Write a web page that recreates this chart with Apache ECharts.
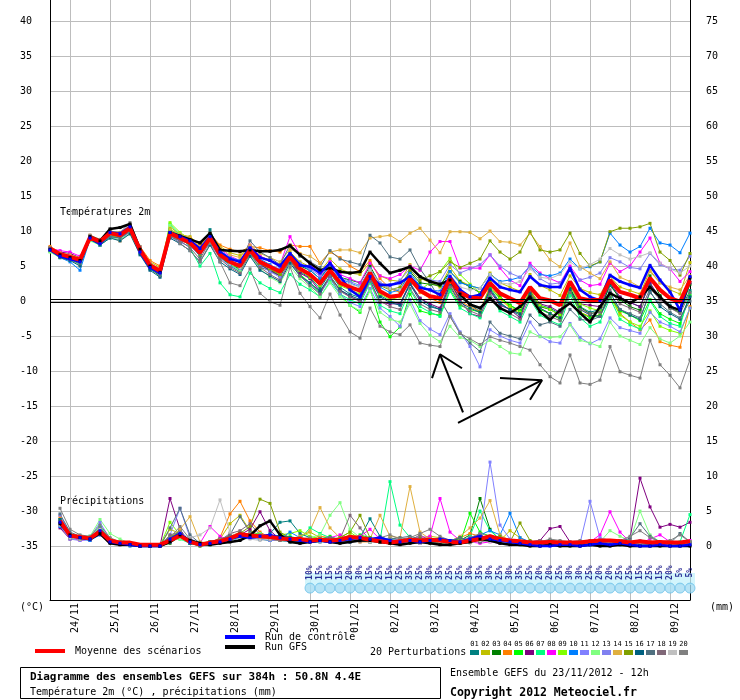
<!DOCTYPE html>
<html>
<head>
<meta charset="utf-8">
<script src="https://cdn.jsdelivr.net/npm/echarts@6/dist/echarts.min.js"></script>
<style>
html,body{margin:0;padding:0;background:#fff}
#main{width:740px;height:700px}
</style>
</head>
<body>
<div id="main"></div>
<script>
// axes
var days = ['24/11','25/11','26/11','27/11','28/11','29/11','30/11','01/12','02/12','03/12','04/12','05/12','06/12','07/12','08/12','09/12'];
var dayTicks = days.map(function(d, k){ return 2 + 4 * k; });
var tempTicks = [-35,-30,-25,-20,-15,-10,-5,0,5,10,15,20,25,30,35,40];
var mmTicks = [0,5,10,15,20,25,30,35,40,45,50,55,60,65,70,75];

// probabilite de neige (%), a partir de l'echeance 26
var snowStart = 26;
var snowPct = [10,15,15,15,20,30,15,25,15,25,35,25,30,35,25,25,30,35,30,25,30,35,25,20,20,25,30,30,25,20,20,25,25,15,25,15,20,5,5];

// temperature 2m, pas de 6h
var meanT = [7.5,6.7,6.3,5.9, 9.1,8.5,9.7,9.4, 10.4,7.3,5.1,4.3, 9.7,9.0,8.3,6.9, 9.0,6.6,5.6,5.0, 7.3,5.6,4.9,4.2, 6.3,4.6,3.8,2.5, 4.4,2.6,2.0,1.5, 4.0,1.4,0.6,0.8, 3.2,1.5,0.7,0.4, 3.2,1.2,0.5,0.4, 2.6,1.1,0.4,-0.3, 2.0,0.4,0.1,-0.6, 2.8,0.4,0.1,0.2, 3.0,1.3,0.9,0.4, 3.3,1.6,0.4,-0.1, 3.0];
var ctrlT = [7.3,6.4,6.0,5.6, 9.0,8.2,9.8,9.6, 10.6,7.0,4.8,4.0, 9.8,9.2,8.6,7.5, 9.2,7.0,6.0,5.6, 7.6,6.2,5.8,5.0, 6.8,5.1,4.9,4.0, 5.4,3.5,1.6,0.6, 3.5,2.3,2.3,2.6, 3.5,1.9,1.6,0.9, 3.5,1.6,0.6,0.9, 3.3,2.0,1.6,1.3, 3.5,2.3,2.0,2.0, 4.7,1.6,0.6,0.1, 3.7,2.8,2.3,1.9, 5.1,3.0,1.3,-1.3, 3.5];
var gfsT = [7.4,6.6,6.2,5.8, 9.2,8.6,10.3,10.5, 11.0,7.4,5.0,4.1, 9.8,9.3,8.8,8.3, 9.7,7.3,7.2,7.1, 7.3,7.1,7.1,7.3, 7.9,6.6,5.4,4.4, 4.7,4.2,4.0,4.2, 7.0,5.4,4.0,4.4, 4.9,3.5,2.8,2.4, 3.0,1.0,-0.5,-1.0, 0.4,-1.0,-1.7,-0.8, 0.6,-1.5,-2.7,-1.3, -0.3,-1.7,-3.0,-0.8, 1.1,0.4,-0.3,0.6, 2.0,0.6,-0.8,-1.3, 3.3];

var t01 = [7.6,6.5,6.0,5.6, 9.3,8.4,9.5,9.6, 10.5,7.1,4.9,4.0, 10.0,9.2,8.0,6.4, 10.2,6.8,5.0,4.2, 7.5,5.4,4.3,3.6, 6.0,4.2,3.3,1.8, 4.0,2.0,1.0,0.5, 3.5,0.8,0.0,-0.4, 2.6,0.4,-0.6,-1.2, 2.4,0.5,-0.5,-1.5, 1.8,-0.2,-1.3,-2.0, 1.5,-0.6,-1.0,-1.8, 1.9,-0.8,-1.6,-1.2, 2.2,0.5,-0.2,-0.8, 2.4,0.6,-0.6,-1.4, 1.5];
var t02 = [7.4,6.8,6.5,6.1, 8.9,8.2,9.3,9.0, 9.8,7.6,5.6,4.8, 10.6,9.5,9.2,8.0, 9.5,7.8,6.9,6.5, 7.8,6.4,5.8,5.1, 7.0,5.6,4.9,4.2, 6.0,4.6,4.0,3.8, 5.5,3.6,3.0,2.8, 5.2,3.3,2.6,2.0, 4.8,2.9,2.2,1.8, 4.0,2.6,2.0,1.4, 3.8,2.2,1.6,0.8, 3.6,1.8,1.2,0.9, 3.5,2.0,1.5,1.0, 4.4,2.6,1.6,1.0, 5.5];
var t03 = [7.2,6.4,6.2,5.8, 9.0,8.6,9.8,9.2, 10.2,7.0,4.6,3.6, 9.4,8.8,8.6,7.2, 9.2,6.2,5.2,4.6, 6.8,4.8,4.4,3.9, 6.4,5.0,4.4,3.2, 5.2,3.4,3.0,2.6, 5.0,2.4,1.8,1.5, 4.2,2.6,2.4,2.2, 4.2,2.8,2.0,1.2, 3.0,0.6,-0.6,-1.4, 1.2,-0.8,-1.2,-2.0, 1.8,-0.9,-1.8,-1.5, 2.5,0.2,-0.8,-1.3, 3.6,0.8,-1.0,-1.6, 2.4];
var t04 = [7.8,7.0,6.4,6.0, 9.4,8.8,9.2,8.6, 10.0,7.8,5.8,5.0, 9.8,9.4,9.0,8.2, 9.6,8.0,7.4,7.0, 7.8,7.6,7.2,7.0, 8.0,7.8,7.8,5.4, 7.0,6.2,5.0,4.2, 5.8,3.2,1.8,1.2, 3.5,1.2,0.4,-0.2, 2.6,0.0,-0.8,-1.5, 2.2,0.3,-1.0,-1.8, 1.2,-1.0,-1.8,-2.4, 1.5,-1.6,-2.2,-2.0, 0.8,-1.8,-3.0,-4.1, -2.7,-5.8,-6.3,-6.6, -0.8];
var t05 = [7.3,6.5,6.1,5.7, 8.9,8.3,9.5,9.3, 10.3,7.2,5.0,4.0, 10.2,9.4,8.4,6.8, 8.8,6.4,5.2,4.4, 7.0,5.2,4.4,3.6, 5.8,3.8,2.6,1.2, 3.4,1.0,-0.6,-1.6, 1.8,-3.0,-5.1,-3.7, 1.0,-1.4,-1.8,-2.0, 1.6,-0.6,-1.2,-1.6, 1.8,0.4,-0.6,-1.4, 1.0,-1.2,-1.8,-2.6, 1.2,-1.6,-2.4,-2.0, 0.6,-1.4,-2.0,-2.8, 0.2,-1.8,-2.6,-3.2, 0.8];
var t06 = [7.6,7.0,6.8,6.2, 9.2,8.4,9.6,9.2, 10.2,7.2,5.0,4.2, 9.6,8.8,8.2,6.8, 8.8,6.4,5.4,4.8, 7.0,5.2,4.4,3.6, 5.8,4.0,3.2,1.4, 3.4,1.6,0.6,0.0, 3.0,-0.2,-0.4,-0.4, 2.4,0.4,-0.4,-1.0, 2.8,0.2,-1.8,-2.2, 1.4,-0.6,-1.2,-2.4, 1.4,-0.4,-0.8,-1.6, 2.4,-0.4,-0.6,-0.8, 2.6,0.6,-0.2,-0.8, 2.6,0.4,-0.8,-1.2, 2.6];
var t07 = [7.2,6.3,5.9,5.5, 8.7,8.0,9.3,9.0, 10.0,7.0,4.8,3.8, 11.0,9.4,7.6,5.0, 6.8,2.6,0.9,0.6, 4.0,2.6,1.8,1.2, 3.8,2.4,1.6,0.6, 2.8,1.0,0.2,-0.4, 2.6,-0.6,-1.4,-1.8, 1.6,-0.8,-1.6,-2.2, 1.4,-1.0,-1.8,-2.4, 0.6,-1.4,-2.2,-3.0, 0.2,-2.0,-2.8,-3.4, 0.8,-2.4,-3.6,-3.0, 0.4,-2.6,-3.4,-4.0, 0.0,-2.2,-3.2,-3.6, 1.2];
var t08 = [7.5,7.2,7.0,6.4, 9.2,8.6,9.6,9.4, 10.6,7.6,5.4,4.6, 9.8,9.2,8.8,7.6, 9.4,7.4,6.4,5.8, 8.0,6.4,5.8,5.2, 9.2,6.6,5.4,3.6, 5.6,3.8,3.2,2.6, 5.4,3.6,3.2,3.8, 5.0,4.4,7.0,8.5, 8.5,4.7,4.7,4.7, 6.6,4.7,3.0,2.2, 5.4,4.0,3.2,2.6, 5.0,3.0,2.2,2.4, 5.4,4.2,5.0,7.0, 9.0,5.4,4.6,2.8, 4.2];
var t09 = [7.1,6.4,6.0,5.4, 8.8,8.2,9.4,9.0, 10.2,7.0,4.8,4.0, 11.2,9.8,8.8,7.2, 9.2,6.8,5.6,4.8, 7.0,5.4,4.6,3.8, 6.0,4.4,3.4,2.2, 4.0,2.2,1.6,1.0, 3.6,1.0,0.2,0.6, 3.2,1.6,2.6,4.2, 6.1,3.8,2.4,1.2, 2.6,0.4,-0.8,-1.6, 1.6,-0.6,-1.2,-2.0, 2.2,-0.4,-1.0,-1.4, 0.6,-2.0,-3.0,-3.6, -1.4,-3.6,-4.2,-4.6, -1.0];
var t10 = [7.2,6.2,5.6,4.4, 8.8,8.0,9.2,9.0, 10.0,6.8,4.6,3.8, 9.8,9.2,8.6,7.4, 9.4,7.2,6.2,5.8, 7.6,6.0,5.2,4.4, 6.6,5.2,4.4,3.2, 5.0,3.2,2.6,2.0, 4.6,2.0,1.2,1.6, 4.0,2.2,1.6,1.4, 4.2,2.6,2.2,1.8, 3.8,2.8,3.0,3.4, 5.0,3.8,3.6,4.0, 6.0,4.6,4.9,5.6, 9.7,8.0,7.0,7.8, 10.4,8.3,8.0,6.9, 9.7];
var t11 = [7.2,6.6,6.4,5.6, 8.8,8.0,9.0,8.8, 9.8,7.2,5.0,4.2, 9.2,8.4,7.8,6.6, 8.2,6.2,5.0,4.4, 6.6,5.0,4.2,3.4, 5.4,3.6,2.4,1.0, 3.2,1.0,-0.2,-0.8, 1.8,-1.0,-2.2,-3.6, 0.2,-2.8,-4.0,-4.8, -1.8,-4.4,-6.5,-9.4, -4.1,-5.0,-5.6,-6.0, -3.0,-5.0,-5.8,-6.0, -3.2,-5.2,-6.1,-5.4, -2.4,-3.8,-4.2,-4.6, -1.6,-3.0,-3.6,-4.4, -1.0];
var t12 = [7.0,6.2,5.8,5.2, 8.6,8.0,9.0,8.8, 9.6,6.8,4.8,3.8, 10.8,9.6,8.6,7.0, 9.6,7.0,5.4,4.2, 6.6,4.6,3.4,2.6, 5.0,3.2,2.0,0.6, 2.6,0.6,-0.6,-1.4, 1.4,-1.6,-2.6,-3.0, -0.4,-3.2,-4.9,-5.8, -3.6,-5.2,-5.6,-6.5, -5.6,-6.5,-7.4,-7.6, -4.4,-5.1,-5.2,-5.1, -3.4,-5.6,-6.0,-6.5, -3.0,-5.0,-5.6,-6.2, -3.8,-5.4,-6.0,-5.0, -3.0];
var t13 = [7.4,6.8,6.2,5.8, 9.0,8.4,9.6,9.2, 10.2,7.2,5.2,4.4, 9.6,8.8,8.2,6.8, 8.8,6.8,5.8,5.0, 7.2,5.8,5.0,4.6, 6.8,5.4,4.6,3.6, 5.0,3.4,2.8,2.2, 4.6,2.6,2.2,3.0, 4.6,3.4,3.0,2.8, 5.2,4.0,4.6,5.2, 6.6,5.0,4.0,3.4, 5.0,3.2,2.4,2.6, 4.6,3.0,3.4,4.0, 6.2,5.6,4.8,4.6, 6.8,5.2,4.6,4.4, 6.4];
var t14 = [7.6,6.9,6.6,6.2, 9.2,8.7,10.0,9.8, 10.8,7.6,5.4,4.6, 10.2,9.6,9.0,7.8, 9.6,7.6,6.6,6.2, 8.0,6.8,6.2,5.6, 7.4,6.8,6.4,5.4, 7.0,7.3,7.3,6.9, 9.0,9.2,9.4,8.5, 9.7,10.4,8.7,6.9, 9.9,9.9,9.8,8.9, 10.0,8.5,8.4,8.0, 9.7,7.8,5.9,4.9, 8.3,4.9,4.0,3.2, 5.6,3.4,2.8,2.0, 4.2,2.6,2.0,1.6, 3.6];
var t15 = [7.3,6.6,6.1,5.7, 8.8,8.3,9.4,9.2, 10.2,7.4,5.2,4.4, 9.6,9.0,8.0,6.6, 8.6,6.4,5.6,5.2, 7.0,5.4,4.6,3.8, 5.6,4.4,3.6,2.4, 4.2,2.6,2.0,1.4, 4.2,2.2,1.6,2.0, 4.4,3.0,3.6,4.2, 5.6,4.8,5.4,6.0, 8.6,7.0,6.0,7.0, 9.9,7.3,7.0,7.3, 9.7,6.8,5.0,5.6, 9.9,10.4,10.4,10.6, 11.1,7.0,5.8,3.7, 6.8];
var t16 = [7.3,6.2,5.8,5.0, 8.8,8.0,9.0,8.6, 9.6,6.6,4.4,3.4, 9.0,8.2,7.2,5.6, 8.0,5.6,4.6,3.8, 6.4,4.4,3.6,2.8, 5.4,3.6,2.6,1.4, 3.6,1.6,0.8,0.2, 3.2,0.6,-0.2,-0.6, 2.4,0.0,-0.8,-1.2, 2.2,-0.2,-1.0,-1.6, 1.6,-0.4,-1.2,-1.8, 1.0,-1.0,-1.8,-2.4, 1.6,-1.2,-2.0,-2.2, 1.2,-1.2,-2.0,-2.6, 1.4,-0.8,-1.8,-2.6, 0.6];
var t17 = [7.3,6.3,5.9,5.3, 9.0,8.2,9.2,9.0, 10.0,7.0,4.8,3.6, 9.2,8.6,8.2,6.8, 8.8,6.6,5.6,5.2, 8.6,7.0,6.2,5.2, 8.0,6.4,5.6,4.8, 7.2,6.0,5.6,5.2, 9.4,8.3,6.3,6.0, 7.3,4.6,2.6,0.2, -2.2,-4.6,-6.0,-7.2, -3.0,-4.6,-5.0,-5.4, -2.0,-3.4,-3.0,-3.6, -1.2,-2.6,-2.8,-2.2, 0.6,-1.2,-1.8,-2.4, 1.2,-0.4,-1.6,-2.4, 0.0];
var t18 = [7.5,6.6,6.1,5.8, 9.2,8.5,9.8,9.6, 10.4,7.2,4.8,4.0, 9.4,8.6,7.6,6.0, 8.6,6.0,4.8,4.0, 6.8,4.8,3.8,3.0, 5.8,3.6,2.2,1.0, 3.6,1.4,0.6,0.0, 2.8,0.0,-0.8,-1.2, 1.8,-0.4,-1.2,-1.6, 2.0,-0.4,-1.4,-2.0, 1.0,-1.0,-1.8,-2.6, 0.6,-1.6,-2.2,-2.8, 1.2,-1.2,-1.8,-1.6, 1.6,-0.4,-1.0,-1.6, 1.8,0.2,-1.0,-1.8, 1.2];
var t19 = [7.4,6.6,6.2,5.8, 9.0,8.4,9.6,9.4, 10.4,7.2,5.0,4.2, 9.6,9.0,8.4,7.0, 9.2,6.6,5.4,4.8, 7.4,5.6,4.8,4.2, 6.2,4.6,3.8,2.6, 4.6,3.0,2.4,2.0, 4.4,2.4,1.8,1.6, 3.6,2.0,1.6,1.2, 3.8,2.0,1.6,1.8, 3.8,2.6,2.4,2.8, 4.6,3.4,3.2,3.8, 5.6,4.6,5.2,6.0, 7.5,6.6,6.0,6.4, 6.9,5.4,4.6,4.0, 5.0];
var t20 = [7.6,6.6,6.0,5.6, 9.4,8.8,10.0,9.8, 11.2,7.8,5.2,4.2, 9.4,8.2,7.2,5.6, 8.2,5.6,2.6,2.2, 4.6,1.1,-0.1,-0.6, 4.9,1.1,-0.8,-2.4, 1.0,-2.0,-4.4,-5.3, -1.0,-3.6,-4.4,-4.8, -3.4,-6.0,-6.3,-6.5, -2.2,-4.6,-5.4,-6.2, -5.1,-5.6,-6.0,-6.5, -7.0,-9.1,-10.8,-11.7, -7.7,-11.7,-11.9,-11.3, -6.5,-10.1,-10.6,-11.0, -5.6,-9.1,-10.6,-12.4, -8.4];

// precipitations (mm), pas de 6h, rien a l'echeance 0
var meanR = [null,3.6,1.5,1.3, 1.1,2.1,0.8,0.5, 0.5,0.2,0.2,0.2, 0.8,1.5,0.6,0.2, 0.5,0.7,1.1,1.7, 1.5,1.4,1.3,1.1, 1.0,1.0,0.8,0.9, 0.8,0.9,1.3,1.2, 0.9,0.7,0.5,0.7, 0.9,0.8,0.9,0.8, 0.6,0.5,0.8,1.0, 1.4,1.0,0.8,0.7, 0.5,0.5,0.6,0.5, 0.5,0.5,0.7,0.8, 0.8,0.7,0.5,0.7, 0.5,0.6,0.5,0.5, 0.7];
var ctrlR = [null,3.4,1.4,1.2, 1.0,2.2,0.6,0.4, 0.2,0.0,0.0,0.0, 1.0,1.8,0.6,0.2, 0.4,0.6,1.0,1.4, 1.2,1.4,1.6,1.2, 1.0,0.8,0.6,0.8, 0.6,0.8,1.0,1.2, 1.0,1.2,0.8,0.6, 0.8,0.6,0.8,1.0, 0.8,0.6,1.0,1.4, 1.0,0.8,0.6,0.4, 0.2,0.0,0.0,0.2, 0.2,0.0,0.2,0.4, 0.2,0.4,0.2,0.0, 0.0,0.2,0.0,0.0, 0.2];
var gfsR = [null,3.2,1.6,1.2, 1.0,1.8,0.4,0.2, 0.2,0.0,0.0,0.0, 0.6,1.6,0.8,0.4, 0.2,0.4,0.6,0.8, 1.5,2.9,3.6,1.6, 0.6,0.4,0.6,0.8, 0.6,0.4,0.6,0.8, 0.8,0.6,0.4,0.2, 0.4,0.6,0.4,0.2, 0.2,0.4,0.6,1.0, 0.8,0.4,0.2,0.2, 0.0,0.0,0.2,0.0, 0.0,0.0,0.2,0.0, 0.0,0.2,0.0,0.0, 0.0,0.0,0.0,0.0, 0.0];

var r01 = [null,3.4,1.2,1.0, 1.0,2.4,0.6,0.3, 0.2,0.0,0.0,0.0, 1.2,2.0,0.8,0.2, 0.4,0.8,1.0,1.6, 1.4,1.2,1.8,3.4, 3.6,1.8,1.2,0.8, 0.6,0.8,1.4,1.2, 3.9,1.4,0.8,0.6, 1.0,1.2,0.8,0.6, 0.4,0.6,0.8,1.0, 1.2,0.6,0.4,0.4, 0.2,0.2,0.6,0.4, 0.2,0.4,0.6,0.4, 0.4,0.8,0.2,0.2, 0.2,0.4,0.2,0.2, 0.4];
var r02 = [null,3.0,1.4,1.2, 1.2,2.0,1.0,0.4, 0.2,0.0,0.0,0.0, 2.4,1.8,0.6,0.2, 0.6,1.0,3.2,4.4, 2.2,1.6,1.4,1.0, 0.8,1.4,2.0,1.2, 0.8,1.0,1.6,1.0, 0.6,0.8,0.4,0.6, 1.0,0.8,1.4,1.2, 0.8,0.4,1.2,1.6, 1.0,0.8,2.2,1.2, 0.4,0.2,0.4,0.4, 0.2,0.2,0.4,0.8, 0.6,0.4,0.2,0.4, 0.4,0.2,0.6,0.4, 0.2];
var r03 = [null,3.8,1.6,1.2, 1.0,1.8,0.6,0.4, 0.2,0.0,0.0,0.0, 0.4,1.4,0.4,0.0, 0.2,0.6,1.2,2.0, 1.6,1.0,1.2,0.8, 1.2,0.8,0.6,0.6, 0.8,0.6,1.2,1.0, 0.8,0.6,0.4,0.6, 0.6,0.8,1.0,0.6, 0.6,0.8,1.6,6.8, 2.4,0.8,0.6,0.4, 0.2,0.4,0.8,0.6, 0.4,0.2,0.6,0.4, 0.4,0.6,0.4,0.2, 0.4,0.4,0.2,0.2, 0.4];
var r04 = [null,4.2,1.8,1.4, 1.2,2.6,1.0,0.6, 0.2,0.0,0.0,0.0, 0.8,1.6,1.0,0.2, 0.4,1.2,4.6,6.4, 3.6,2.0,1.2,1.0, 0.8,0.6,1.0,1.4, 1.2,1.0,0.8,0.6, 0.6,1.2,0.8,0.4, 0.6,0.8,0.6,0.4, 0.8,1.2,1.8,1.4, 1.2,1.0,0.6,0.4, 0.2,0.4,0.6,0.4, 0.2,0.4,0.4,0.4, 0.6,0.6,0.2,0.2, 0.2,0.4,0.2,0.4, 0.6];
var r05 = [null,3.2,1.4,1.0, 1.2,2.2,0.8,0.4, 0.2,0.0,0.0,0.0, 1.0,2.2,0.6,0.2, 0.6,0.8,1.0,1.4, 1.6,1.8,1.0,0.8, 0.6,1.2,0.8,1.0, 1.4,0.8,1.0,1.6, 1.2,0.8,0.6,0.4, 0.8,0.6,1.0,0.8, 0.6,0.4,4.7,2.0, 1.4,0.8,0.4,0.4, 0.2,0.4,0.4,0.2, 0.2,0.2,0.4,0.6, 0.4,0.4,0.2,0.4, 0.2,0.2,0.4,0.2, 0.2];
var r06 = [null,2.6,1.0,1.2, 0.8,1.8,0.6,0.2, 0.2,0.0,0.0,0.0, 6.8,2.4,0.4,0.2, 0.4,0.6,1.0,1.6, 2.4,4.9,2.2,1.0, 0.8,0.6,0.6,0.8, 0.6,1.0,1.2,0.8, 1.0,0.6,0.4,0.8, 0.6,0.4,0.8,1.0, 0.6,0.4,1.2,1.6, 0.8,0.6,0.4,0.4, 0.6,0.8,2.5,2.8, 0.6,0.4,0.6,0.4, 0.6,0.8,1.0,9.7, 5.6,2.7,3.1,2.7, 3.4];
var r07 = [null,3.6,1.6,1.4, 1.4,2.8,1.0,0.6, 0.4,0.0,0.0,0.0, 1.4,1.0,0.4,0.2, 0.4,0.8,1.2,1.6, 1.2,1.4,1.0,1.2, 1.4,1.0,2.6,1.8, 1.2,0.8,1.0,0.8, 0.6,0.8,9.2,3.0, 1.2,0.8,0.6,0.8, 0.6,0.4,1.4,5.0, 2.2,1.0,0.6,0.4, 0.4,0.2,0.4,0.4, 0.2,0.4,0.2,0.6, 0.6,0.4,0.2,0.4, 0.4,0.2,0.4,0.6, 4.5];
var r08 = [null,3.0,1.2,0.8, 1.0,1.6,0.8,0.4, 0.2,0.0,0.0,0.0, 0.6,1.2,0.6,0.4, 2.8,1.4,0.8,1.2, 1.6,1.2,1.4,1.0, 0.8,0.6,0.8,1.0, 1.2,1.6,1.0,1.4, 2.4,1.0,0.6,0.8, 1.0,1.2,1.4,6.8, 2.0,0.8,0.6,0.4, 0.6,0.4,0.8,0.6, 0.4,0.2,0.4,0.4, 0.2,0.2,0.6,1.6, 4.9,2.0,0.6,0.4, 1.0,1.6,0.6,0.4, 0.8];
var r09 = [null,3.4,1.4,1.2, 1.0,2.0,0.8,0.4, 0.2,0.0,0.0,0.0, 3.4,1.6,0.8,0.2, 0.6,0.8,1.0,1.4, 1.2,1.0,0.8,1.6, 1.8,2.2,1.4,1.0, 0.8,1.2,2.0,1.0, 0.8,0.6,1.2,0.8, 0.6,0.8,0.6,0.4, 0.6,1.0,0.8,1.2, 0.8,0.6,0.4,0.4, 0.2,0.4,0.2,0.4, 0.4,0.2,0.4,0.2, 0.6,0.4,0.4,0.2, 0.2,0.4,0.4,0.2, 0.6];
var r10 = [null,2.8,1.2,1.0, 0.8,1.6,0.6,0.4, 0.0,0.0,0.0,0.0, 0.6,1.4,0.4,0.2, 0.2,0.6,0.8,1.2, 1.4,1.0,0.8,1.0, 2.0,1.2,0.8,1.0, 1.2,1.0,0.8,1.2, 1.0,0.6,0.8,0.4, 0.8,0.6,1.0,0.6, 0.4,0.6,0.8,1.6, 2.2,1.6,4.7,1.2, 0.6,0.4,0.2,0.4, 0.4,0.2,0.6,0.4, 0.4,0.2,0.4,0.2, 0.4,0.2,0.2,0.4, 0.2];
var r11 = [null,4.4,1.8,1.2, 1.2,3.4,1.0,0.6, 0.4,0.0,0.0,0.0, 1.6,5.4,1.2,0.2, 0.4,0.8,1.2,1.0, 1.2,1.0,1.4,1.2, 0.8,0.6,1.0,0.8, 0.6,0.8,1.0,0.8, 1.0,0.6,0.8,0.6, 0.8,1.0,0.6,0.8, 0.6,0.8,1.0,1.4, 12.0,3.0,1.0,0.6, 0.4,0.2,0.4,0.4, 0.2,0.4,6.4,1.2, 0.8,0.6,0.4,0.8, 0.4,0.2,0.4,0.2, 0.2];
var r12 = [null,3.2,1.6,1.4, 1.4,3.8,1.8,1.0, 0.4,0.0,0.0,0.0, 0.8,1.0,0.6,0.2, 0.4,0.6,0.8,1.2, 1.4,1.8,1.2,1.0, 0.8,1.0,1.2,1.6, 4.4,6.2,2.4,1.2, 0.8,0.6,1.0,0.8, 0.6,0.8,0.6,0.4, 0.6,0.4,0.8,1.0, 0.8,0.6,0.4,0.2, 0.4,0.2,0.2,0.4, 0.4,0.2,0.4,0.6, 2.2,1.4,0.8,5.0, 1.6,0.6,0.4,0.2, 0.4];
var r13 = [null,3.0,1.0,0.8, 1.0,2.4,0.8,0.4, 0.2,0.0,0.0,0.0, 1.0,2.0,0.6,0.2, 0.4,0.6,1.0,1.4, 1.2,1.0,0.8,0.8, 0.6,0.4,0.8,0.6, 0.8,1.0,0.6,0.8, 0.6,0.8,1.2,0.8, 0.6,0.4,1.0,0.8, 0.6,0.8,1.2,1.0, 0.8,1.4,0.6,0.4, 0.4,0.2,0.4,0.6, 0.4,0.6,0.4,1.0, 0.6,0.4,0.2,0.4, 0.2,0.4,0.2,0.2, 0.4];
var r14 = [null,3.6,1.4,1.0, 1.0,2.2,0.8,0.4, 0.2,0.0,0.0,0.0, 1.2,2.4,4.2,0.6, 0.4,0.8,1.4,2.0, 1.6,1.2,1.0,0.8, 1.0,1.4,2.2,5.5, 2.6,1.2,1.0,0.8, 1.0,4.4,1.4,1.2, 8.5,2.0,1.0,0.8, 0.6,1.4,2.6,4.0, 6.5,1.6,0.8,0.6, 0.4,0.4,0.2,0.4, 0.4,0.2,0.4,0.4, 0.6,0.4,0.2,0.2, 0.4,0.4,0.2,0.2, 0.4];
var r15 = [null,3.2,1.2,1.0, 1.2,2.0,0.8,0.4, 0.2,0.0,0.0,0.0, 1.4,1.8,0.8,0.2, 0.4,0.6,1.2,1.8, 2.8,6.7,6.1,2.0, 1.2,0.8,1.0,0.8, 1.0,1.2,2.0,4.4, 1.2,0.8,0.6,0.4, 0.8,1.2,0.6,0.4, 0.8,1.0,0.6,0.8, 1.2,1.4,0.6,3.3, 0.8,0.4,0.2,0.4, 0.4,0.6,0.4,0.2, 0.4,0.6,0.4,0.2, 0.6,0.4,0.2,0.4, 0.2];
var r16 = [null,3.8,1.6,1.2, 1.0,2.0,0.6,0.4, 0.2,0.0,0.0,0.0, 0.8,1.4,0.4,0.2, 0.6,1.0,1.4,1.8, 1.6,1.4,1.2,1.6, 1.2,0.8,1.0,0.8, 1.0,0.8,0.6,1.0, 0.8,0.6,0.8,0.6, 1.0,0.8,0.6,0.8, 0.6,1.2,0.8,0.6, 1.0,0.8,0.6,0.4, 0.6,0.4,0.4,0.6, 0.4,0.4,0.2,0.6, 0.4,0.8,0.4,0.2, 0.4,0.2,0.4,0.2, 0.4];
var r17 = [null,4.6,2.0,1.4, 1.2,2.6,1.0,0.4, 0.2,0.0,0.0,0.0, 2.6,5.4,1.6,0.4, 0.4,0.8,1.6,4.2, 2.0,1.4,1.2,1.0, 0.8,0.6,0.8,1.0, 0.8,1.0,1.2,0.8, 0.6,0.8,1.0,1.2, 1.4,1.0,0.6,0.4, 0.8,1.2,0.8,0.6, 1.0,0.8,0.6,0.4, 0.4,0.6,0.8,0.6, 0.4,0.6,0.8,0.4, 0.6,0.4,1.2,3.2, 1.4,0.6,0.4,1.8, 0.6];
var r18 = [null,3.4,1.4,1.2, 1.2,2.2,0.8,0.4, 0.2,0.0,0.0,0.0, 1.6,2.0,0.8,0.2, 0.4,0.8,1.8,2.2, 3.2,1.6,1.0,0.8, 1.0,1.2,0.8,1.0, 1.2,1.0,4.4,2.6, 0.8,0.6,0.4,0.6, 0.8,1.6,0.8,0.6, 0.4,0.6,0.8,0.6, 0.8,0.6,0.4,0.2, 0.6,0.8,0.6,0.4, 0.4,0.2,0.4,0.6, 0.4,0.6,0.8,0.4, 0.2,0.4,0.6,0.4, 0.2];
var r19 = [null,3.0,1.2,1.0, 1.0,2.4,1.0,0.6, 0.2,0.0,0.0,0.0, 1.0,1.8,1.2,1.6, 2.6,6.6,2.0,1.2, 1.0,0.8,1.0,1.2, 1.0,0.8,0.6,0.8, 0.6,0.8,1.0,0.8, 0.6,0.8,0.4,0.6, 0.6,0.4,0.8,0.6, 0.4,0.6,0.4,0.8, 0.6,0.4,0.6,0.4, 0.2,0.4,0.2,0.4, 0.4,0.4,0.6,0.4, 0.4,0.2,0.4,0.2, 0.4,0.2,0.2,0.4, 0.2];
var r20 = [null,5.4,2.4,1.6, 1.4,3.0,1.2,0.6, 0.4,0.0,0.0,0.0, 1.2,2.8,1.0,0.4, 0.6,1.0,1.2,1.6, 1.8,1.4,1.2,1.0, 0.8,1.0,1.2,0.8, 0.8,0.6,0.8,0.6, 0.8,1.2,1.6,1.0, 1.2,1.8,2.4,1.4, 0.8,0.6,1.2,1.8, 1.4,0.8,0.6,0.4, 0.4,0.6,1.0,0.8, 0.6,0.8,0.6,0.4, 0.6,0.8,1.4,2.2, 1.2,0.6,0.8,1.6, 0.6];

var pertNames = ['01','02','03','04','05','06','07','08','09','10','11','12','13','14','15','16','17','18','19','20'];
var pertColors = ['#008080','#c0c000','#008000','#ff8000','#00ff00','#800080','#00ff80','#ff00ff','#80ff00','#0080ff','#8080ff','#80ff80','#8080f0','#e0b040','#80a000','#006080','#507080','#806878','#c0c0c0','#808080'];
var pertTemp = [t01,t02,t03,t04,t05,t06,t07,t08,t09,t10,t11,t12,t13,t14,t15,t16,t17,t18,t19,t20];
var pertRain = [r01,r02,r03,r04,r05,r06,r07,r08,r09,r10,r11,r12,r13,r14,r15,r16,r17,r18,r19,r20];

// fleches dessinees a la main (echeance, temperature)
var arrowA = [[41.3,-15.9],[39.0,-7.6]];
var headA = [[38.2,-11.0],[39.0,-7.6],[41.2,-9.6]];
var arrowB = [[40.8,-17.4],[49.2,-11.3]];
var headB = [[45.0,-11.0],[49.2,-11.3],[48.0,-14.1]];

var font = 'DejaVu Sans Mono';

function pairs(arr){
	return arr.map(function(v, i){ return [i, v]; });
}

function thinLine(name, arr, color, axisIdx){
	return {
		type: 'line', name: name, yAxisIndex: axisIdx, data: pairs(arr),
		symbol: 'rect', symbolSize: 3, showSymbol: true, silent: true,
		lineStyle: {width: 1, color: color}, itemStyle: {color: color}, z: 2
	};
}

function thickLine(name, arr, color, axisIdx, width, withSymbol){
	return {
		type: 'line', name: name, yAxisIndex: axisIdx, data: pairs(arr),
		symbol: withSymbol ? 'rect' : 'none', symbolSize: 3, showSymbol: withSymbol, silent: true,
		lineStyle: {width: width, color: color}, itemStyle: {color: color}, z: 3
	};
}

function arrowLine(pts){
	return {
		type: 'line', data: pts, symbol: 'none', silent: true, z: 8,
		lineStyle: {width: 2, color: '#000'}
	};
}

var series = [];
pertRain.forEach(function(a, k){ series.push(thinLine('R' + pertNames[k], a, pertColors[k], 1)); });
pertTemp.forEach(function(a, k){ series.push(thinLine('T' + pertNames[k], a, pertColors[k], 0)); });
series.push(thickLine('Run GFS', gfsR, '#000', 1, 2.5, true));
series.push(thickLine('Run GFS', gfsT, '#000', 0, 2.5, true));
series.push(thickLine('Run de contrôle', ctrlR, '#0000ff', 1, 2.5, true));
series.push(thickLine('Run de contrôle', ctrlT, '#0000ff', 0, 2.5, true));
series.push(thickLine('Moyenne des scénarios', meanR, '#ff0000', 1, 4, false));
var meanSerie = thickLine('Moyenne des scénarios', meanT, '#ff0000', 0, 4, false);
meanSerie.markLine = {
	silent: true, symbol: 'none', label: {show: false},
	lineStyle: {color: '#000', width: 1, type: 'solid'},
	data: [{yAxis: 0.3}, {yAxis: -0.15}]
};
series.push(meanSerie);

// bandeau probabilite de neige
series.push({
	type: 'scatter', silent: true, z: 5,
	data: snowPct.map(function(p, k){ return [snowStart + k, -39.7]; }),
	symbol: 'rect', symbolSize: [10, 12], itemStyle: {color: '#c8f2fb'}
});
series.push({
	type: 'scatter', silent: true, z: 6,
	data: snowPct.map(function(p, k){ return [snowStart + k, -41.0]; }),
	symbol: 'circle', symbolSize: 10,
	itemStyle: {color: '#a4dcf3', borderColor: '#6cc0e8', borderWidth: 1}
});
series.push({
	type: 'scatter', silent: true, z: 7,
	data: snowPct.map(function(p, k){ return [snowStart + k, -38.8, p]; }),
	symbolSize: 1, itemStyle: {color: 'rgba(0,0,0,0)'},
	label: {
		show: true, position: 'inside', rotate: 90,
		formatter: function(pr){ return pr.value[2] + '%'; },
		fontFamily: font, fontSize: 8, fontWeight: 'bold', color: '#000080'
	}
});

series.push(arrowLine(arrowA));
series.push(arrowLine(headA));
series.push(arrowLine(arrowB));
series.push(arrowLine(headB));

// textes, cadre et legende des perturbations
var graphics = [
	{type: 'text', style: {x: 60, y: 212, text: 'Températures 2m', font: '10px ' + font, fill: '#000', verticalAlign: 'middle'}},
	{type: 'text', style: {x: 60, y: 501, text: 'Précipitations', font: '10px ' + font, fill: '#000', verticalAlign: 'middle'}},
	{type: 'text', style: {x: 20, y: 607, text: '(°C)', font: '10px ' + font, fill: '#000', verticalAlign: 'middle'}},
	{type: 'text', style: {x: 710, y: 607, text: '(mm)', font: '10px ' + font, fill: '#000', verticalAlign: 'middle'}},
	{type: 'text', style: {x: 370, y: 652, text: '20 Perturbations', font: '10px ' + font, fill: '#000', verticalAlign: 'middle'}},
	{type: 'rect', shape: {x: 20.5, y: 667.5, width: 420, height: 31}, style: {fill: '#fff', stroke: '#000', lineWidth: 1}},
	{type: 'text', style: {x: 30, y: 677, text: 'Diagramme des ensembles GEFS sur 384h : 50.8N 4.4E', font: 'bold 11px ' + font, fill: '#000', verticalAlign: 'middle'}},
	{type: 'text', style: {x: 30, y: 692, text: 'Température 2m (°C) , précipitations (mm)', font: '10px ' + font, fill: '#000', verticalAlign: 'middle'}},
	{type: 'text', style: {x: 450, y: 673, text: 'Ensemble GEFS du 23/11/2012 - 12h', font: '10px ' + font, fill: '#000', verticalAlign: 'middle'}},
	{type: 'text', style: {x: 450, y: 693, text: 'Copyright 2012 Meteociel.fr', font: 'bold 11.5px ' + font, fill: '#000', verticalAlign: 'middle'}}
];
pertColors.forEach(function(c, k){
	graphics.push({type: 'rect', shape: {x: 470 + 11 * k, y: 650, width: 9, height: 5}, style: {fill: c}});
	graphics.push({type: 'text', style: {x: 474.5 + 11 * k, y: 644, text: pertNames[k], font: '7px ' + font, fill: '#000', align: 'center', verticalAlign: 'middle'}});
});

var legendText = {fontFamily: font, fontSize: 10, color: '#000', padding: [0, 0, 0, 5]};

var myChart = echarts.init(document.getElementById('main'));
var option = {
	animation: false,
	backgroundColor: '#fff',
	textStyle: {fontFamily: font},
	grid: {left: 50, right: 50, top: 0, bottom: 100},
	legend: [
		{data: ['Moyenne des scénarios'], left: 30, top: 641, icon: 'rect', itemWidth: 30, itemHeight: 4, selectedMode: false, textStyle: legendText},
		{data: ['Run de contrôle', 'Run GFS'], orient: 'vertical', left: 220, top: 627, itemGap: 0, icon: 'rect', itemWidth: 30, itemHeight: 4, selectedMode: false, textStyle: legendText}
	],
	xAxis: {
		type: 'value', min: 0, max: 64,
		axisLine: {show: true, onZero: false, lineStyle: {color: '#000'}},
		axisTick: {show: false, customValues: dayTicks},
		axisLabel: {
			customValues: dayTicks, rotate: 90, margin: 3, fontSize: 10, color: '#000', fontFamily: font,
			verticalAlign: 'top',
			formatter: function(v){ return days[Math.round((v - 2) / 4)]; }
		},
		splitLine: {show: true, lineStyle: {color: '#bdbdbd'}}
	},
	yAxis: [
		{
			type: 'value', min: -42.7, max: 43, position: 'left',
			axisLine: {show: true, lineStyle: {color: '#000'}},
			axisTick: {show: false, customValues: tempTicks},
			axisLabel: {customValues: tempTicks, align: 'left', margin: 30, fontSize: 10, color: '#000', fontFamily: font},
			splitLine: {show: true, lineStyle: {color: '#bdbdbd'}}
		},
		{
			type: 'value', min: -7.7, max: 78, position: 'right',
			axisLine: {show: true, lineStyle: {color: '#000'}},
			axisTick: {show: false, customValues: mmTicks},
			axisLabel: {customValues: mmTicks, margin: 16, fontSize: 10, color: '#000', fontFamily: font},
			splitLine: {show: false}
		}
	],
	graphic: graphics,
	series: series
};
myChart.setOption(option);
</script>
</body>
</html>
